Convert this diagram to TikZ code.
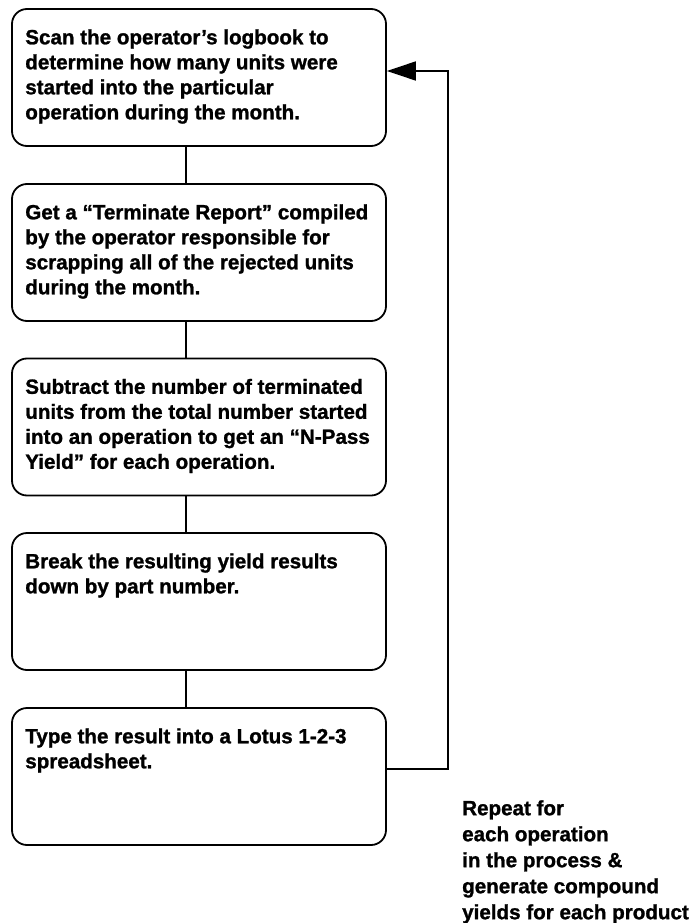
\documentclass[tikz,border=0pt]{standalone}
\usepackage{fontspec}
\setmainfont[BoldFeatures={FakeBold=1.2}]{Liberation Sans}
\usetikzlibrary{arrows.meta}
\begin{document}
\begin{tikzpicture}[x=1pt,y=-1pt,
  stepbox/.style={draw, line width=1.8pt, rounded corners=15pt,
    minimum width=374pt, minimum height=137pt, inner sep=0pt},
  steptext/.style={anchor=north west, inner sep=0pt, align=left,
    font=\bfseries\fontsize{20.6}{25}\selectfont},
  link/.style={line width=1.8pt},
  loop/.style={line width=1.8pt, -{Triangle[length=29pt,width=19pt]}}]
\useasboundingbox (0,0) rectangle (691,923);

% process steps
\node[stepbox] (b1) at (199,77.5) {};
\node[stepbox] (b2) at (199,252.5) {};
\node[stepbox] (b3) at (199,427) {};
\node[stepbox] (b4) at (199,601.5) {};
\node[stepbox] (b5) at (199,776.5) {};

\node[steptext] (t1) at ([xshift=14pt,yshift=-21pt]b1.north west)
  {\rule{0pt}{15pt}Scan the operator’s logbook to\\determine how many units were\\started into the particular\\operation during the month.};
\node[steptext] (t2) at ([xshift=14pt,yshift=-21pt]b2.north west)
  {\rule{0pt}{15pt}Get a “Terminate Report” compiled\\by the operator responsible for\\scrapping all of the rejected units\\during the month.};
\node[steptext] (t3) at ([xshift=14pt,yshift=-21pt]b3.north west)
  {\rule{0pt}{15pt}Subtract the number of terminated\\units from the total number started\\into an operation to get an “N-Pass\\Yield” for each operation.};
\node[steptext] (t4) at ([xshift=14pt,yshift=-21pt]b4.north west)
  {\rule{0pt}{15pt}Break the resulting yield results\\down by part number.};
\node[steptext] (t5) at ([xshift=14pt,yshift=-21pt]b5.north west)
  {\rule{0pt}{15pt}Type the result into a Lotus 1-2-3\\spreadsheet.};

% connectors between steps
\draw[link] ([xshift=-13pt]b1.south) -- ([xshift=-13pt]b2.north);
\draw[link] ([xshift=-13pt]b2.south) -- ([xshift=-13pt]b3.north);
\draw[link] ([xshift=-13pt]b3.south) -- ([xshift=-13pt]b4.north);
\draw[link] ([xshift=-13pt]b4.south) -- ([xshift=-13pt]b5.north);

% return loop
\coordinate (rail) at (448,0);
\coordinate (r5) at ([yshift=7.5pt]b5.east);
\coordinate (r1) at ([yshift=6.5pt]b1.east);
\draw[loop] (r5) -- (r5 -| rail) -- (r1 -| rail) -- (r1);

\node[steptext, font=\bfseries\fontsize{20.6}{26}\selectfont] (note) at (462,800)
  {\rule{0pt}{15pt}Repeat for\\each operation\\in the process \&\\generate compound\\yields for each product};
\end{tikzpicture}
\end{document}
